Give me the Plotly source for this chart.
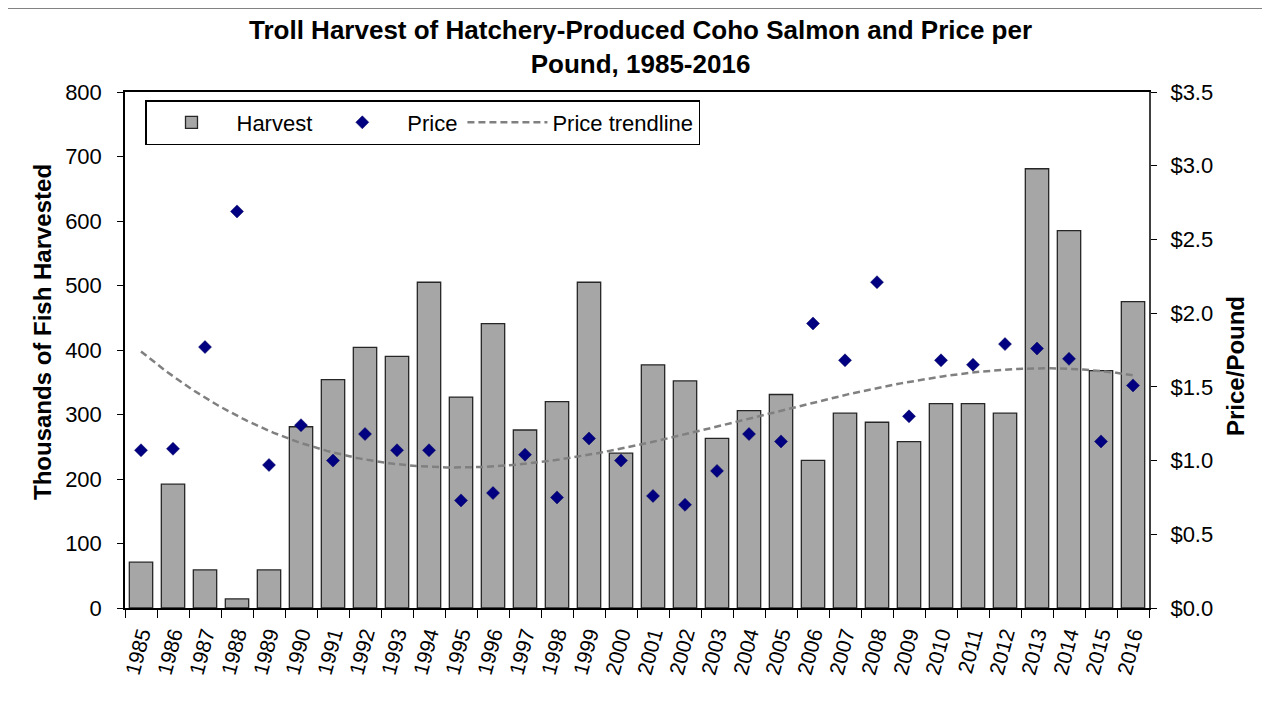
import numpy as np
import plotly.graph_objects as go

years = [str(y) for y in range(1985, 2017)]
harvest = [71, 192, 59, 14, 59, 281, 354, 404, 390, 505, 327, 441, 276, 320, 505,
           240, 377, 352, 263, 306, 331, 229, 302, 288, 258, 317, 317, 302, 681, 585,
           368, 475]
price = [1.07, 1.08, 1.77, 2.69, 0.97, 1.24, 1.00, 1.18, 1.07, 1.07, 0.73, 0.78,
         1.04, 0.75, 1.15, 1.00, 0.76, 0.70, 0.93, 1.18, 1.13, 1.93, 1.68, 2.21,
         1.30, 1.68, 1.65, 1.79, 1.76, 1.69, 1.13, 1.51]
left_ticks = [0, 100, 200, 300, 400, 500, 600, 700, 800]
right_ticks = [0.0, 0.5, 1.0, 1.5, 2.0, 2.5, 3.0, 3.5]
right_labels = ["$%.1f" % v for v in right_ticks]

# Excel-style 3rd order polynomial trendline of price
idx = np.arange(len(price))
coef = np.polyfit(idx, price, 3)
xs = np.linspace(0, len(price) - 1, 300)
trend = np.polyval(coef, xs)

FONT = "Liberation Sans, Arial, sans-serif"
OFF = 8  # page body margin
W, H = 1262, 694
L, T = 125 - OFF, 92 - OFF
pw, ph = 1024, 516
R = W - L - pw
B = H - T - ph


def px_x(x):
    return (x - OFF - L) / pw


def px_y(y):
    return (T + ph - (y - OFF)) / ph


fig = go.Figure()
fig.add_trace(go.Bar(
    x=years, y=harvest, name="Harvest",
    marker=dict(color="#A6A6A6", line=dict(color="#262626", width=1.3)),
    xaxis="x", yaxis="y",
))
fig.add_trace(go.Scatter(
    x=years, y=price, name="Price", mode="markers",
    marker=dict(symbol="diamond", size=10, color="#000080",
                line=dict(color="#000060", width=0.5)),
    xaxis="x", yaxis="y2",
))
fig.add_trace(go.Scatter(
    x=xs, y=trend, name="Price trendline", mode="lines",
    line=dict(color="#808080", width=2.5, dash="7px,4px"),
    xaxis="x2", yaxis="y2",
))

fig.update_layout(
    width=W, height=H,
    margin=dict(l=L, r=R, t=T, b=B),
    paper_bgcolor="white", plot_bgcolor="white",
    font=dict(family=FONT, size=22, color="black"),
    bargap=0.27,
    showlegend=True,
    legend=dict(
        orientation="h", x=px_x(145), y=px_y(100), xanchor="left", yanchor="top",
        bordercolor="#000000", borderwidth=1.5, bgcolor="white",
        font=dict(family=FONT, size=22, color="black"),
        itemwidth=80,
        traceorder="normal",
    ),
    xaxis=dict(
        type="category", range=[-0.5, 31.5],
        showline=True, linecolor="black", linewidth=1.5, mirror=True,
        ticks="outside", tickson="boundaries", ticklen=8, tickcolor="black",
        tickangle=-75, tickfont=dict(size=21), showgrid=False,
        ticklabelstandoff=4,
    ),
    xaxis2=dict(
        overlaying="x", range=[-0.5, 31.5], visible=False, showgrid=False,
    ),
    yaxis=dict(
        range=[0, 800], tickvals=left_ticks,
        showline=True, linecolor="black", linewidth=1.5,
        ticks="outside", ticklen=6, tickcolor="black", tickfont=dict(size=22),
        ticklabelstandoff=11, showgrid=False, zeroline=False,
    ),
    yaxis2=dict(
        range=[0, 3.5], tickvals=right_ticks, ticktext=right_labels,
        overlaying="y", side="right",
        showline=True, linecolor="#404040", linewidth=2,
        ticks="outside", ticklen=6, tickcolor="black", tickfont=dict(size=22),
        ticklabelstandoff=9, showgrid=False, zeroline=False,
    ),
    annotations=[
        dict(text="<b>Troll Harvest of Hatchery-Produced Coho Salmon and Price per<br>Pound, 1985-2016</b>",
             xref="paper", yref="paper", x=px_x(640), y=px_y(47),
             xanchor="center", yanchor="middle", showarrow=False,
             font=dict(family=FONT, size=26, color="black")),
        dict(text="<b>Thousands of Fish Harvested</b>", textangle=-90,
             xref="paper", yref="paper", x=px_x(42), y=px_y(332),
             xanchor="center", yanchor="middle", showarrow=False,
             font=dict(family=FONT, size=24, color="black")),
        dict(text="<b>Price/Pound</b>", textangle=-90,
             xref="paper", yref="paper", x=px_x(1235), y=px_y(366),
             xanchor="center", yanchor="middle", showarrow=False,
             font=dict(family=FONT, size=24, color="black")),
    ],
    shapes=[
        dict(type="rect", xref="paper", yref="paper",
             x0=px_x(3), x1=px_x(1266), y0=px_y(720), y1=px_y(8),
             line=dict(color="#595959", width=1.5), fillcolor="rgba(0,0,0,0)",
             layer="above"),
    ],
)

fig.write_html("out.html")
